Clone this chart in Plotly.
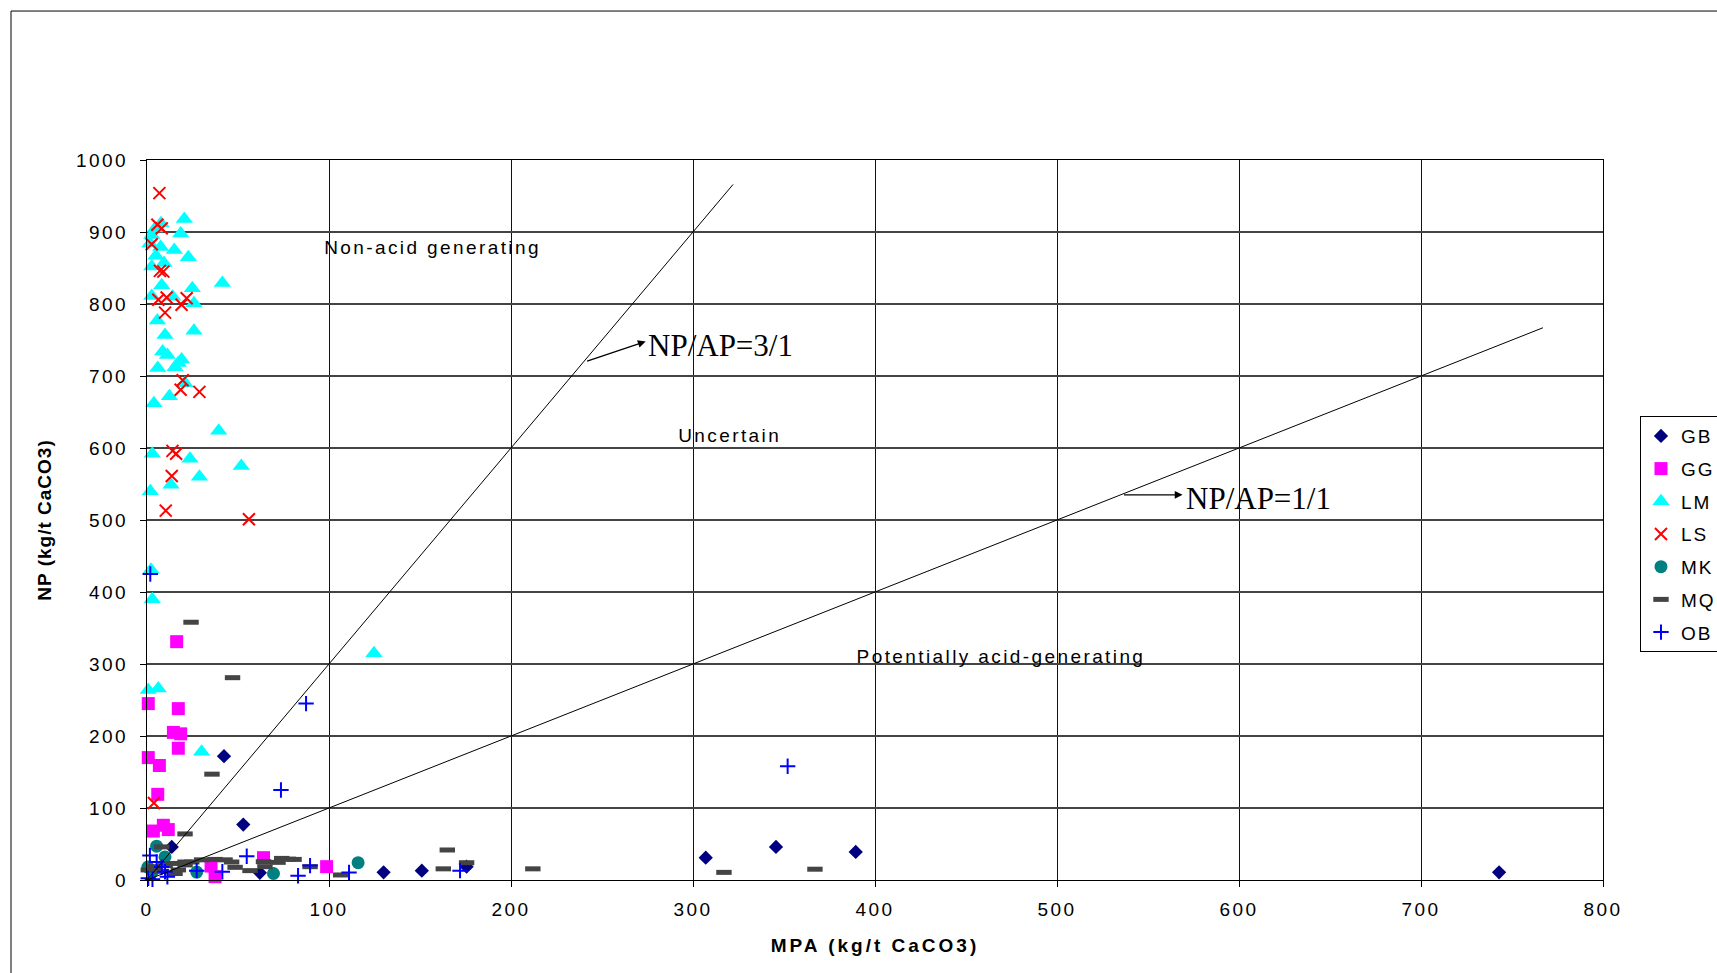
import plotly.graph_objects as go

# ---------------- data ----------------
GB_x = [42.3, 52.9, 13.6, 62.0, 130.0, 151.0, 175.6, 307.0, 345.6, 389.4, 742.9]
GB_y = [172, 77, 46, 10, 10.6, 13, 18.5, 31, 46, 39, 10.6]

GG_x = [0.7, 17.2, 14.5, 18.5, 17.2, 0.7, 6.8, 5.9, 3.5, 9.0, 11.7, 64.0, 35.2, 37.4, 16.3, 98.7]
GG_y = [245, 238, 205, 203, 183, 170, 159, 119, 68, 76, 70, 31, 19.4, 4.6, 331, 18.5]

LM_x = [20.5, 7.7, 4.4, 2.6, 18.5, 1.6, 7.5, 15.0, 4.9, 22.7, 9.3, 2.6, 8.1, 41.4, 24.9,
        2.6, 14.1, 25.8, 5.7, 25.8, 9.9, 8.6, 11.2, 19.0, 17.2, 5.9, 15.4, 20.9, 12.3, 3.8,
        39.4, 2.9, 23.6, 51.8, 28.8, 13.2, 1.8, 2.2, 2.9, 0.7, 6.2, 30.0, 124.7]
LM_y = [918, 912, 905, 896, 898, 884, 879, 875, 867, 865, 857, 852, 826, 829, 822,
        811, 810, 801, 777, 763, 757, 734, 729, 723, 718, 711, 712, 690, 672, 662,
        624, 592, 585, 575, 560, 549, 540, 431, 390, 264, 266, 178, 315]

LS_x = [6.8, 5.7, 8.1, 2.6, 7.1, 9.0, 6.2, 10.8, 9.9, 19.0, 21.8, 19.6, 18.5, 28.8,
        14.0, 16.0, 13.6, 10.3, 56.0, 3.8]
LS_y = [954, 910, 905, 883, 846, 845, 806, 809, 788, 799, 808, 694, 681, 678,
        596, 592, 561, 513, 501, 107]

MK_x = [5.3, 9.9, 0.5, 3.0, 27.3, 69.5, 116.0]
MK_y = [47, 32, 18, 12, 11, 9, 24]

MQ_x = [24.2, 47.0, 35.7, 20.9, 8.1, 0.7, 4.4, 13.6, 17.2, 20.9, 24.6, 30.0, 37.4, 42.9,
        46.5, 20.9, 15.4, 8.0, 10.0, 48.4, 56.6, 64.0, 64.8, 74.0, 72.0, 77.6, 80.8, 89.6,
        106.4, 165.0, 162.8, 175.6, 212.0, 317.0, 367.0]
MQ_y = [358, 281, 147, 64, 46, 14, 18.5, 23, 14, 25, 25, 28, 28.6, 28,
        25, 21, 9, 12, 20, 17.6, 13, 25.4, 18.5, 30, 24.5, 29, 28.6, 18.5,
        7, 41.7, 15.5, 24, 15.5, 10.6, 15]

OB_x = [1.8, 87.4, 73.6, 352.0, 54.8, 89.6, 83.0, 111.0, 172.0, 41.4, 27.3, 1.6, 5.3,
        8.1, 9.9, 11.2, 0.7, 3.0]
OB_y = [425, 245, 125, 158, 33, 20, 6, 10.5, 13, 11.5, 13, 34, 25,
        18, 11.5, 4.6, 2.3, 1]

# NP/AP ratio reference lines
ratio3_x = [0, 322]
ratio3_y = [0, 966]
ratio1_x = [0, 767]
ratio1_y = [0, 767]

x_ticks = [0, 100, 200, 300, 400, 500, 600, 700, 800]
y_ticks = [0, 100, 200, 300, 400, 500, 600, 700, 800, 900, 1000]

FONT = "Liberation Sans, Arial, sans-serif"
SERIF = "Liberation Serif, Times New Roman, serif"

fig = go.Figure()

series = [
    ("GB", GB_x, GB_y, dict(symbol="diamond", size=11, color="#000080")),
    ("GG", GG_x, GG_y, dict(symbol="square", size=13, color="#FF00FF")),
    ("LM", LM_x, LM_y, dict(symbol="triangle-up", size=15, color="#00FFFF")),
    ("LS", LS_x, LS_y, dict(symbol="x-thin", size=12, color="#FF0000",
                             line=dict(color="#FF0000", width=2))),
    ("MK", MK_x, MK_y, dict(symbol="circle", size=13, color="#008080")),
    ("MQ", MQ_x, MQ_y, dict(symbol="line-ew", size=11, color="#444444",
                             line=dict(color="#444444", width=5))),
    ("OB", OB_x, OB_y, dict(symbol="cross-thin", size=11, color="#0000FF",
                             line=dict(color="#0000FF", width=2))),
]
for name, xs, ys, mk in series:
    fig.add_trace(go.Scatter(x=xs, y=ys, mode="markers", name=name, marker=mk,
                             legendgroup=name, cliponaxis=False))

for xs, ys in [(ratio3_x, ratio3_y), (ratio1_x, ratio1_y)]:
    fig.add_trace(go.Scatter(x=xs, y=ys, mode="lines", showlegend=False,
                             line=dict(color="black", width=1), hoverinfo="skip"))

txt = dict(family=FONT, size=19, color="black")
fig.add_annotation(x=157, y=878, text="Non-acid generating", showarrow=False, font=txt)
fig.add_annotation(x=320, y=618, text="Uncertain", showarrow=False, font=txt)
fig.add_annotation(x=469, y=310, text="Potentially acid-generating", showarrow=False, font=txt)

big = dict(family=SERIF, size=31, color="black")
fig.add_annotation(x=274, y=743, text="NP/AP=3/1", showarrow=False, font=big, xanchor="left")
fig.add_annotation(x=570, y=530, text="NP/AP=1/1", showarrow=False, font=big, xanchor="left")
# arrows
fig.add_annotation(x=274, y=748, ax=241, ay=720, axref="x", ayref="y", xref="x", yref="y",
                   text="", showarrow=True, arrowhead=2, arrowsize=1.2, arrowwidth=1.3,
                   arrowcolor="black")
fig.add_annotation(x=569, y=535, ax=536, ay=535, axref="x", ayref="y", xref="x", yref="y",
                   text="", showarrow=True, arrowhead=2, arrowsize=1.2, arrowwidth=1.3,
                   arrowcolor="black")

# outer chart border
fig.add_shape(type="rect", xref="paper", yref="paper", x0=-0.0934, x1=1.09, y0=-0.14, y1=1.2069,
              line=dict(color="black", width=1), fillcolor="rgba(0,0,0,0)", layer="below")

axis_common = dict(showline=True, linecolor="black", linewidth=1, mirror=True,
                   ticks="outside", ticklen=6, tickcolor="black", zeroline=False,
                   tickfont=dict(family=FONT, size=19, color="black"))
fig.update_xaxes(range=[0, 800], tickvals=x_ticks, showgrid=True, gridcolor="#111111",
                 gridwidth=1, ticklabelstandoff=6,
                 title=dict(text="MPA (kg/t CaCO3)", standoff=19,
                            font=dict(family=FONT, size=19, color="black", weight="bold")),
                 **axis_common)
fig.update_yaxes(range=[0, 1000], tickvals=y_ticks, showgrid=True, gridcolor="#444444",
                 gridwidth=1.5, ticklabelstandoff=8,
                 title=dict(text="NP (kg/t CaCO3)", standoff=29,
                            font=dict(family=FONT, size=19, color="black", weight="bold")),
                 **axis_common)

fig.update_layout(
    width=1717, height=973,
    margin=dict(l=147, r=114, t=160, b=93, autoexpand=False),
    paper_bgcolor="white", plot_bgcolor="white",
    font=dict(family=FONT, size=19, color="black"),
    legend=dict(x=1.0254, y=0.6444, xanchor="left", yanchor="top",
                bordercolor="black", borderwidth=1, bgcolor="white",
                font=dict(family=FONT, size=19, color="black"),
                tracegroupgap=5, itemwidth=30),
    showlegend=True,
)

# the reference text is set with wide character spacing (as in the original spreadsheet chart)
spacing_js = """
var gd = document.getElementById('{plot_id}');
function sp(sel, v) { gd.querySelectorAll(sel).forEach(function (t) { t.style.letterSpacing = v; }); }
sp('.xtick text', '2.5px');
sp('.ytick text', '2.5px');
sp('.g-xtitle text', '3px');
sp('.g-ytitle text', '1px');
sp('.legendtext', '2px');
gd.querySelectorAll('.annotation-text').forEach(function (t) {
  if (t.textContent.indexOf('NP/AP') < 0) { t.style.letterSpacing = '2.4px'; }
});
"""

fig.write_html("out.html", post_script=spacing_js)
